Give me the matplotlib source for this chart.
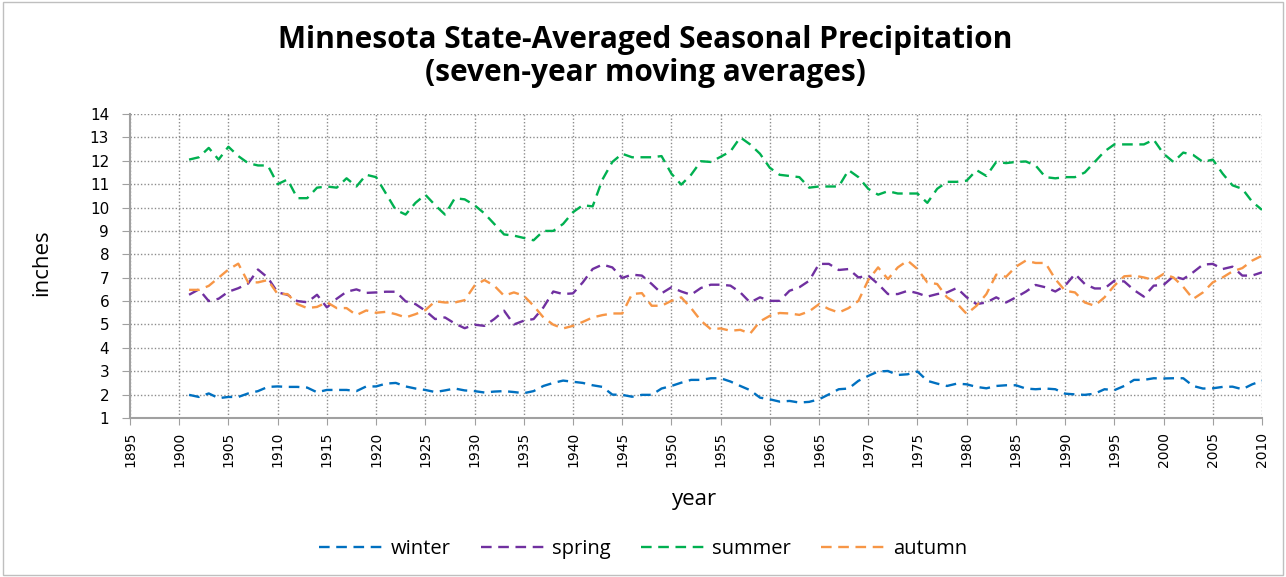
import matplotlib
matplotlib.use("Agg")
import matplotlib.pyplot as plt
from matplotlib.patches import Rectangle

# seven-year moving averages, 1901-2010 (inches)
years = list(range(1901, 2011))

winter = [1.99, 1.90, 2.05, 1.85, 1.90, 1.90, 2.05, 2.15, 2.33, 2.35,
          2.33, 2.33, 2.30, 2.10, 2.20, 2.20, 2.20, 2.15, 2.35, 2.35,
          2.47, 2.50, 2.35, 2.26, 2.20, 2.11, 2.18, 2.26, 2.18, 2.15,
          2.09, 2.13, 2.15, 2.11, 2.06, 2.15, 2.37, 2.50, 2.60, 2.55,
          2.50, 2.40, 2.33, 2.00, 1.99, 1.91, 1.99, 1.99, 2.26, 2.37,
          2.51, 2.63, 2.63, 2.70, 2.70, 2.56, 2.37, 2.19, 1.87, 1.80,
          1.70, 1.73, 1.66, 1.69, 1.80, 2.01, 2.23, 2.26, 2.59, 2.80,
          2.99, 3.01, 2.84, 2.87, 2.99, 2.59, 2.47, 2.37, 2.47, 2.44,
          2.33, 2.27, 2.37, 2.40, 2.40, 2.26, 2.23, 2.26, 2.23, 2.04,
          2.01, 1.99, 2.04, 2.23, 2.19, 2.37, 2.63, 2.63, 2.70, 2.69,
          2.70, 2.70, 2.37, 2.26, 2.27, 2.33, 2.34, 2.23, 2.44, 2.59]

spring = [6.27, 6.50, 6.00, 6.10, 6.40, 6.55, 6.75, 7.35, 7.00, 6.37,
          6.27, 6.00, 5.95, 6.27, 5.73, 6.10, 6.40, 6.50, 6.35, 6.37,
          6.40, 6.40, 5.99, 5.87, 5.59, 5.23, 5.30, 5.04, 4.84, 4.99,
          4.94, 5.23, 5.59, 5.00, 5.16, 5.23, 5.73, 6.41, 6.30, 6.33,
          6.80, 7.37, 7.56, 7.44, 6.99, 7.13, 7.09, 6.73, 6.33, 6.59,
          6.41, 6.27, 6.56, 6.70, 6.70, 6.66, 6.37, 5.94, 6.16, 6.01,
          6.01, 6.44, 6.59, 6.87, 7.59, 7.59, 7.33, 7.37, 7.01, 7.09,
          6.73, 6.30, 6.30, 6.44, 6.34, 6.19, 6.30, 6.37, 6.56, 6.16,
          5.87, 5.94, 6.16, 5.94, 6.16, 6.40, 6.69, 6.59, 6.41, 6.66,
          7.16, 6.73, 6.54, 6.54, 6.87, 6.84, 6.47, 6.19, 6.66, 6.69,
          7.06, 6.94, 7.23, 7.56, 7.59, 7.37, 7.47, 7.09, 7.09, 7.23]

summer = [12.05, 12.15, 12.55, 12.05, 12.60, 12.20, 11.90, 11.80, 11.80, 11.00,
          11.20, 10.40, 10.40, 10.85, 10.90, 10.85, 11.25, 10.90, 11.40, 11.30,
          10.60, 9.90, 9.70, 10.20, 10.55, 10.10, 9.70, 10.40, 10.35, 10.10,
          9.75, 9.30, 8.85, 8.80, 8.70, 8.60, 9.00, 9.00, 9.30, 9.80,
          10.10, 10.05, 11.20, 11.95, 12.30, 12.15, 12.15, 12.15, 12.20, 11.45,
          10.98, 11.40, 11.98, 11.95, 12.17, 12.40, 13.00, 12.70, 12.30, 11.70,
          11.40, 11.35, 11.30, 10.85, 10.90, 10.90, 10.90, 11.60, 11.30, 10.80,
          10.55, 10.70, 10.60, 10.60, 10.60, 10.20, 10.80, 11.10, 11.10, 11.15,
          11.60, 11.35, 11.95, 11.90, 11.95, 11.97, 11.80, 11.30, 11.25, 11.30,
          11.30, 11.50, 11.95, 12.40, 12.70, 12.70, 12.70, 12.70, 12.90, 12.30,
          11.95, 12.35, 12.25, 11.95, 12.05, 11.45, 10.95, 10.80, 10.25, 9.90]

autumn = [6.48, 6.48, 6.65, 7.00, 7.35, 7.60, 6.80, 6.80, 6.90, 6.30,
          6.30, 5.87, 5.70, 5.75, 5.95, 5.70, 5.70, 5.40, 5.60, 5.50,
          5.54, 5.44, 5.30, 5.44, 5.61, 5.99, 5.94, 5.94, 6.04, 6.66,
          6.90, 6.66, 6.23, 6.37, 6.23, 5.80, 5.30, 4.99, 4.83, 4.94,
          5.11, 5.30, 5.40, 5.47, 5.47, 6.30, 6.34, 5.80, 5.80, 6.01,
          6.16, 5.70, 5.16, 4.80, 4.83, 4.73, 4.77, 4.61, 5.13, 5.37,
          5.49, 5.47, 5.41, 5.56, 5.87, 5.66, 5.51, 5.70, 6.01, 6.90,
          7.44, 6.94, 7.44, 7.73, 7.37, 6.80, 6.73, 6.16, 5.90, 5.45,
          5.80, 6.30, 7.13, 7.04, 7.47, 7.73, 7.63, 7.63, 6.94, 6.44,
          6.37, 5.94, 5.80, 6.16, 6.66, 7.06, 7.09, 7.01, 6.90, 7.16,
          7.01, 6.61, 6.09, 6.37, 6.80, 7.01, 7.27, 7.41, 7.73, 7.94]

series = [("winter", winter, "#0070C0"),
          ("spring", spring, "#7030A0"),
          ("summer", summer, "#00B050"),
          ("autumn", autumn, "#F79646")]

plt.rcParams['font.family'] = ['Open Sans', 'DejaVu Sans']

fig = plt.figure(figsize=(12.86, 5.77), dpi=100)
fig.patches.append(Rectangle((0.002, 0.003), 0.996, 0.994, transform=fig.transFigure,
                             fill=False, edgecolor="#bfbfbf", linewidth=1))
ax = fig.add_axes([130 / 1286, 1 - 418 / 577, 1132 / 1286, 304 / 577])

for name, values, color in series:
    ax.plot(years, values, color=color, linewidth=1.7, dashes=(4.5, 2.8), label=name)

ax.set_xlim(1895, 2010)
ax.set_ylim(1, 14)
ax.set_xticks(range(1895, 2011, 5))
ax.set_yticks(range(1, 15))
ax.tick_params(axis="x", labelrotation=90, labelsize=10, length=5, color="#a0a0a0", pad=5)
ax.tick_params(axis="y", labelsize=11, length=6, color="#a0a0a0", pad=9)
for lbl in ax.get_xticklabels() + ax.get_yticklabels():
    lbl.set_fontfamily("DejaVu Sans")
ax.grid(True, linestyle=(0, (1, 1.5)), color="#8c8c8c", linewidth=1)
for side in ["top", "right"]:
    ax.spines[side].set_visible(False)
for side in ["left", "bottom"]:
    ax.spines[side].set_color("#a0a0a0")
    ax.spines[side].set_linewidth(1.5)

ax.set_xlabel("year", fontsize=16)
ax.set_ylabel("inches", fontsize=16)
ax.xaxis.set_label_coords((695 - 130) / 1132, (418 - 499) / 304)
ax.xaxis.label.set_va("center")
ax.yaxis.set_label_coords((42 - 130) / 1132, (418 - 263) / 304)
ax.yaxis.label.set_va("center")

fig.text(0.502, 1 - 40 / 577, "Minnesota State-Averaged Seasonal Precipitation",
         ha="center", va="center", fontsize=21.5, fontweight="bold")
fig.text(0.502, 1 - 73 / 577, "(seven-year moving averages)",
         ha="center", va="center", fontsize=21.5, fontweight="bold")

fig.legend(loc="center", bbox_to_anchor=(0.5, 1 - 549 / 577), ncol=4, frameon=False,
           fontsize=14.5, handlelength=3.2, handletextpad=0.35, columnspacing=1.5)

fig.savefig("out.png", dpi=100)
